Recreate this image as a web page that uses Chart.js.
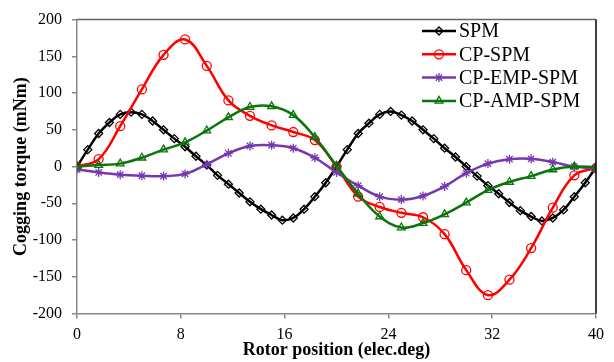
<!DOCTYPE html>
<html><head><meta charset="utf-8">
<script src="https://cdn.jsdelivr.net/npm/chart.js@4.4.1/dist/chart.umd.min.js"></script>
<style>html,body{margin:0;padding:0;background:#fff;}</style>
</head><body>
<canvas id="c" width="614" height="362"></canvas>
<script>
const seriesNames = ['SPM', 'CP-SPM', 'CP-EMP-SPM', 'CP-AMP-SPM'];
const xTickLabels = [0, 8, 16, 24, 32, 40];
const yTickLabels = [200, 150, 100, 50, 0, -50, -100, -150, -200];

const xFine = [0,0.83,1.67,2.5,3.33,4.17,5,5.83,6.67,7.5,8.33,9.17,10,10.83,11.67,12.5,13.33,14.17,15,15.83,16.67,17.5,18.33,19.17,20,
  20.83,21.67,22.5,23.33,24.17,25,25.83,26.67,27.5,28.33,29.17,30,30.83,31.67,32.5,33.33,34.17,35,35.83,36.67,37.5,38.33,39.17,40];
const xCoarse = [0,1.67,3.33,5,6.67,8.33,10,11.67,13.33,15,16.67,18.33,20,21.67,23.33,25,26.67,28.33,30,31.67,33.33,35,36.67,38.33,40];

const spm = [0,23,45,60,71,74,71,62,50,38,27,14,2,-12,-24,-36,-48,-58,-66,-73,-70,-58,-41,-22,0,
  23,45,59,71,75,70,62,50,38,25,13,0,-13,-26,-37,-49,-60,-68,-74,-70,-59,-41,-22,-1];
const cpSpm = [0,10,55,105,152,173,137,90,69,56,47,36,0,-41,-55,-63,-69,-92,-141,-175,-154,-111,-56,-12,-2];
const cpEmpSpm = [-4,-8,-11,-12.5,-13,-10,3,18,28,29,25,12,-8,-26,-41,-45,-40,-27,-9,4,10,10.5,6,0,-3];
const cpAmpSpm = [0,2,4,12,23,33,49,67,81,82,70,40,1,-37,-68,-83,-77,-65,-49,-32,-21,-13,-4,0,-1];

const colors = ['#000000', '#FF0000', '#7638B0', '#0A760A'];
const styles = ['rectRot', 'circle', 'star', 'triangle'];
const radii = [4, 4.5, 4.5, 4.5];

function pts(xs, ys) { return xs.map((x, i) => ({x: x, y: ys[i]})); }
const allY = [spm, cpSpm, cpEmpSpm, cpAmpSpm];
const allX = [xFine, xCoarse, xCoarse, xCoarse];

const datasets = seriesNames.map((n, i) => ({
  label: n,
  data: pts(allX[i], allY[i]),
  borderColor: colors[i],
  borderWidth: 2.5,
  pointStyle: styles[i],
  pointRadius: radii[i],
  pointBorderColor: colors[i],
  pointBackgroundColor: 'rgba(0,0,0,0)',
  pointBorderWidth: 1.3,
  tension: 0.4,
  fill: false,
  order: 4 - i
}));

const FONT = "'Liberation Serif', 'Times New Roman', serif";

const frame = {
  id: 'frame',
  afterDraw(chart) {
    const {ctx, chartArea: a} = chart;
    ctx.save();
    ctx.lineWidth = 1.5;
    ctx.strokeStyle = '#666666';
    ctx.beginPath(); ctx.moveTo(a.left, a.top); ctx.lineTo(a.right, a.top); ctx.stroke();
    ctx.strokeStyle = '#000000';
    ctx.beginPath(); ctx.moveTo(a.right, a.top); ctx.lineTo(a.right, a.bottom); ctx.stroke();
    // legend
    const x0 = 422, lineLen = 34, yStart = 31, dy = 23.3;
    ctx.font = '20px ' + FONT;
    ctx.textBaseline = 'middle';
    ctx.textAlign = 'left';
    chart.data.datasets.forEach((ds, i) => {
      const y = yStart + i * dy;
      ctx.strokeStyle = ds.borderColor;
      ctx.lineWidth = 2.5;
      ctx.beginPath(); ctx.moveTo(x0, y); ctx.lineTo(x0 + lineLen, y); ctx.stroke();
      ctx.lineWidth = 1.3;
      ctx.fillStyle = 'rgba(0,0,0,0)';
      Chart.helpers.drawPoint(ctx, {pointStyle: ds.pointStyle, radius: ds.pointRadius, rotation: 0, borderWidth: 1.3}, x0 + lineLen / 2, y);
      ctx.fillStyle = '#000';
      ctx.fillText(ds.label, x0 + lineLen + 3, y + 1);
    });
    ctx.restore();
  }
};

new Chart(document.getElementById('c'), {
  type: 'line',
  data: {datasets},
  options: {
    responsive: false,
    animation: false,
    layout: {padding: {left: 0, right: 18, top: 15, bottom: 0}},
    plugins: {legend: {display: false}, tooltip: {enabled: false}},
    scales: {
      x: {
        type: 'linear', min: 0, max: 40,
        afterBuildTicks(s) { s.ticks = xTickLabels.map(v => ({value: v})); },
        afterFit(s) { s.height = 48.5; },
        grid: {drawOnChartArea: false, drawTicks: true, tickLength: 5, color: '#888888', lineWidth: 1.5},
        border: {color: '#888888', width: 1.5},
        ticks: {color: '#000', font: {family: FONT, size: 16}, padding: 7, maxRotation: 0},
        title: {display: true, text: 'Rotor position (elec.deg)', color: '#000', font: {family: FONT, size: 18, weight: 'bold'}, padding: {top: 0, bottom: 1}}
      },
      y: {
        type: 'linear', min: -200, max: 200,
        afterBuildTicks(s) { s.ticks = yTickLabels.map(v => ({value: v})); },
        afterFit(s) { s.width = 77; },
        grid: {drawOnChartArea: false, drawTicks: true, tickLength: 5, color: '#888888', lineWidth: 1.5},
        border: {color: '#888888', width: 1.5},
        ticks: {color: '#000', font: {family: FONT, size: 16}, padding: 10},
        title: {display: true, text: 'Cogging torque (mNm)', color: '#000', font: {family: FONT, size: 18, weight: 'bold'}, padding: {top: 11, bottom: 0}}
      }
    }
  },
  plugins: [frame]
});
</script>
</body></html>
